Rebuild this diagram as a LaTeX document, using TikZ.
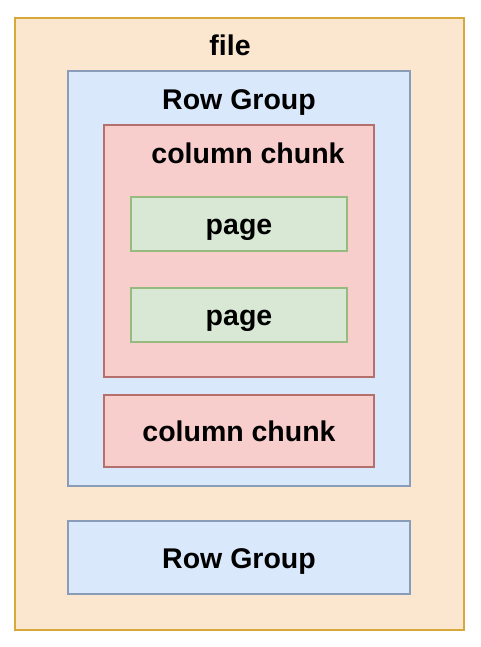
\documentclass[tikz,border=0pt]{standalone}
\usepackage{fontspec}
\setmainfont{Liberation Sans}
\usetikzlibrary{positioning}
\definecolor{filefill}{HTML}{FBE6CF}
\definecolor{filedraw}{HTML}{D6A93A}
\definecolor{rgfill}{HTML}{DAE8FC}
\definecolor{rgdraw}{HTML}{8A9DB8}
\definecolor{ccfill}{HTML}{F8CECC}
\definecolor{ccdraw}{HTML}{B5706D}
\definecolor{pgfill}{HTML}{D9E8D5}
\definecolor{pgdraw}{HTML}{97BB7F}

\begin{document}
\begin{tikzpicture}[
    x=1pt, y=-1pt,
    box/.style={draw, line width=1.4pt, inner sep=0pt},
    lbl/.style={inner sep=0pt, text height=24pt, text depth=3pt,
      font=\fontsize{28.5}{32}\selectfont\bfseries},
  ]
  \useasboundingbox (0,0) rectangle (481,647);

  % File
  \node[box, fill=filefill, draw=filedraw, minimum width=449pt, minimum height=612pt] (file) at (239.5,324) {};
  \node[lbl] (filelbl) at (230,45) {file};

  % Row group with chunks
  \node[box, fill=rgfill, draw=rgdraw, minimum width=342pt, minimum height=415pt] (rg) at (239,278.5) {};
  \node[lbl] (rglbl) at (239,99) {Row Group};

  \node[box, fill=ccfill, draw=ccdraw, minimum width=270pt, minimum height=252pt] (cc) at (239,251) {};
  \node[lbl] (cclbl) at (248,153) {column chunk};

  % Pages
  \node[box, fill=pgfill, draw=pgdraw, minimum width=216pt, minimum height=54pt, lbl] (pga) at (239,224) {page};
  \node[box, fill=pgfill, draw=pgdraw, minimum width=216pt, minimum height=54pt, lbl] (pgb) at (239,315) {page};

  \node[box, fill=ccfill, draw=ccdraw, minimum width=270pt, minimum height=72pt, lbl] (ccb) at (239,431) {column chunk};

  % Second row group
  \node[box, fill=rgfill, draw=rgdraw, minimum width=342pt, minimum height=73pt, lbl] (rgb) at (239,557.5) {Row Group};
\end{tikzpicture}
\end{document}
